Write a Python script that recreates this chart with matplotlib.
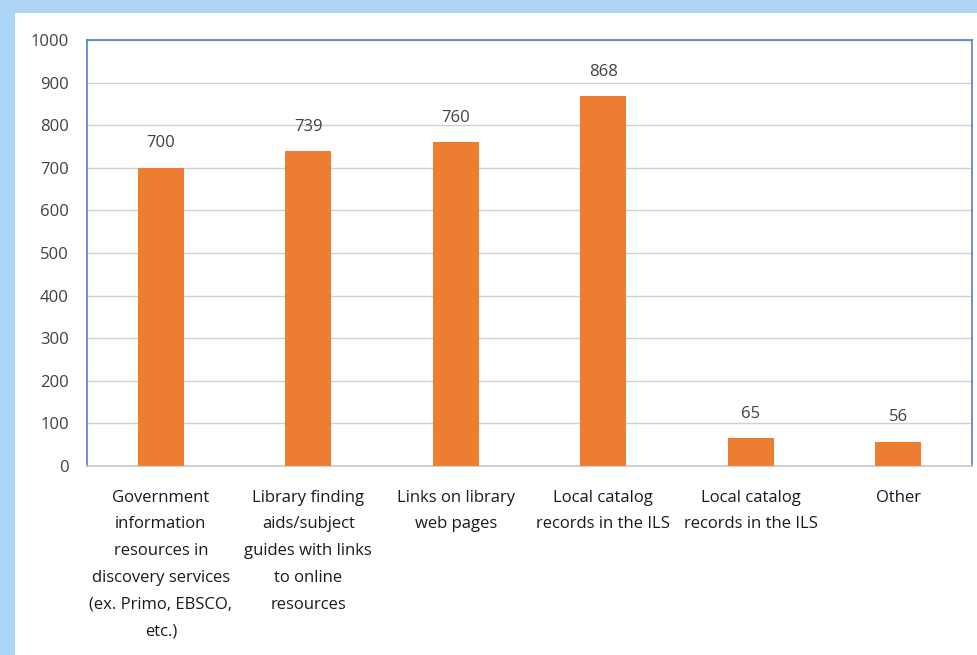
import matplotlib.pyplot as plt
from matplotlib.patches import Rectangle

categories = [
    "Government\ninformation\nresources in\ndiscovery services\n(ex. Primo, EBSCO,\netc.)",
    "Library finding\naids/subject\nguides with links\nto online\nresources",
    "Links on library\nweb pages",
    "Local catalog\nrecords in the ILS",
    "Local catalog\nrecords in the ILS",
    "Other",
]
counts = [700, 739, 760, 868, 65, 56]
y_ticks = [0, 100, 200, 300, 400, 500, 600, 700, 800, 900, 1000]

plt.rcParams['font.family'] = ['Open Sans', 'DejaVu Sans']

W, H = 977, 655
fig = plt.figure(figsize=(W / 100, H / 100), dpi=100, facecolor='#abd4f5')

# white panel behind the chart
fig.patches.append(Rectangle((15 / W, 0), 1 - 15 / W, 1 - 13 / H,
                             transform=fig.transFigure, facecolor='white',
                             edgecolor='none', zorder=-5))

ax = fig.add_axes([87 / W, 1 - 466 / H, (972 - 87) / W, (466 - 40) / H])
ax.set_zorder(2)
ax.set_facecolor('white')

x = range(len(categories))
ax.bar(x, counts, width=0.31, color='#ed7d31', zorder=3)

for xi, v in zip(x, counts):
    ax.annotate(str(v), (xi, v), xytext=(0, 12), textcoords='offset points',
                ha='center', va='bottom', fontsize=12, color='#404040')

ax.set_xlim(-0.5, len(categories) - 0.5)
ax.set_ylim(0, 1000)
ax.set_yticks(y_ticks)
ax.set_yticklabels([str(t) for t in y_ticks], fontsize=12, color='#404040')
ax.set_xticks(list(x))
ax.set_xticklabels(categories, fontsize=12, color='#1a1a1a', linespacing=1.9, va='top')
ax.tick_params(axis='both', length=0)
ax.tick_params(axis='x', pad=17)
ax.tick_params(axis='y', pad=13)

ax.grid(axis='y', color='#d0d0d0', linewidth=1, zorder=0)
for side in ['left', 'right', 'top']:
    ax.spines[side].set_color('#4f7fd0')
    ax.spines[side].set_linewidth(1.2)
ax.spines['bottom'].set_color('#c8c8c8')
ax.spines['bottom'].set_linewidth(1.2)

fig.savefig('out.png', dpi=100, facecolor=fig.get_facecolor())
